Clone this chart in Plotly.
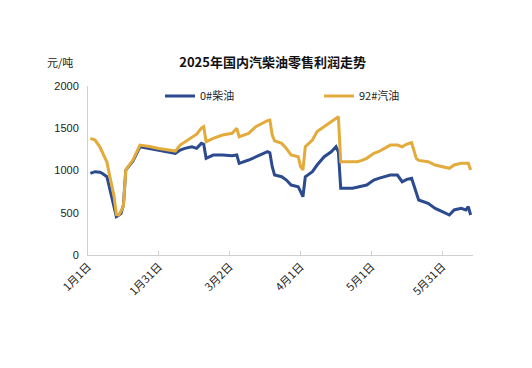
import plotly.graph_objects as go

# days since Jan 1, 2025
days = [1, 3, 5, 6, 8, 9, 11, 12, 13, 14, 15, 16, 19, 22, 26, 30, 37, 39, 41, 44, 46, 48, 49, 50,
        53, 57, 61, 63, 64, 68, 71, 76, 77, 78, 79, 82, 84, 86, 89, 90, 91, 92, 95, 97, 100, 103,
        105, 106, 107, 112, 114, 116, 118, 121, 123, 128, 131, 133, 135, 137, 139, 140, 144, 147,
        150, 153, 155, 158, 160, 161, 162]
diesel = [966, 986, 980, 966, 926, 808, 571, 453, 470, 493, 592, 1006, 1110, 1281, 1260, 1240, 1203,
          1242, 1262, 1281, 1262, 1321, 1310, 1144, 1183, 1183, 1175, 1183, 1085, 1124, 1163, 1222,
          1210, 1045, 946, 926, 887, 828, 808, 750, 690, 926, 986, 1065, 1163, 1222, 1281, 1220, 789,
          789, 800, 808, 828, 887, 907, 946, 946, 867, 895, 907, 730, 651, 611, 552, 513, 473, 533,
          552, 533, 571, 473]
gasoline = [1380, 1360, 1281, 1222, 1100, 960, 700, 480, 473, 520, 580, 1006, 1124, 1301, 1285, 1260,
            1230, 1301, 1340, 1400, 1430, 1500, 1518, 1341, 1380, 1420, 1440, 1499, 1400, 1440, 1518,
            1590, 1597, 1420, 1350, 1321, 1260, 1183, 1163, 1045, 1006, 1281, 1360, 1460, 1520, 1580,
            1617, 1637, 1104, 1104, 1104, 1120, 1144, 1203, 1222, 1301, 1301, 1281, 1313, 1329, 1144,
            1120, 1104, 1065, 1045, 1026, 1065, 1085, 1085, 1085, 1006]

tick_days = [0, 30, 60, 90, 120, 150]
tick_labels = ["1月1日", "1月31日", "3月2日", "4月1日", "5月1日", "5月31日"]
y_ticks = [0, 500, 1000, 1500, 2000]

FONT = "Liberation Sans, Noto Sans CJK SC, sans-serif"
CJK = "Noto Sans CJK SC, sans-serif"

W, H = 524, 360  # page body has an 8px margin

fig = go.Figure()
fig.add_trace(go.Scatter(x=days, y=diesel, mode="lines", name="0#柴油",
                         line=dict(color="#2C4A8E", width=3)))
fig.add_trace(go.Scatter(x=days, y=gasoline, mode="lines", name="92#汽油",
                         line=dict(color="#E2AB3B", width=3)))

fig.update_layout(
    width=W, height=H,
    margin=dict(l=80, r=59, t=78, b=113, autoexpand=False),
    paper_bgcolor="white", plot_bgcolor="white",
    font=dict(family=FONT, size=11, color="#222"),
    title=dict(text="<b>2025年国内汽柴油零售利润走势</b>", x=0.505, xanchor="center",
               y=1 - 54 / H, yanchor="middle", font=dict(family=CJK, size=13, color="#111")),
    showlegend=True,
    legend=dict(orientation="h", x=152 / W, xref="container", xanchor="left",
                y=1 - 88 / H, yref="container", yanchor="middle", entrywidth=114,
                font=dict(family=CJK, size=11, color="#222"),
                bgcolor="rgba(0,0,0,0)", itemclick=False),
    annotations=[dict(text="元/吨", xref="paper", yref="paper", x=-13 / 385, y=1 + 24 / 169,
                      xanchor="right", yanchor="middle", showarrow=False,
                      font=dict(family=CJK, size=11, color="#222"))],
)
fig.update_xaxes(range=[0, 163], tickvals=tick_days, ticktext=tick_labels, tickangle=-45,
                 showgrid=False, zeroline=False, showline=True, linecolor="#d0d0d0", linewidth=1,
                 ticks="inside", ticklen=4, tickcolor="#d0d0d0",
                 tickfont=dict(family=CJK, size=11, color="#222"))
fig.update_yaxes(range=[0, 2000], tickvals=y_ticks, showgrid=False, zeroline=False,
                 showline=True, linecolor="#d0d0d0", linewidth=1, ticks="",
                 ticklabelstandoff=6,
                 tickfont=dict(family=FONT, size=11, color="#222"))

fig.write_html("out.html")
